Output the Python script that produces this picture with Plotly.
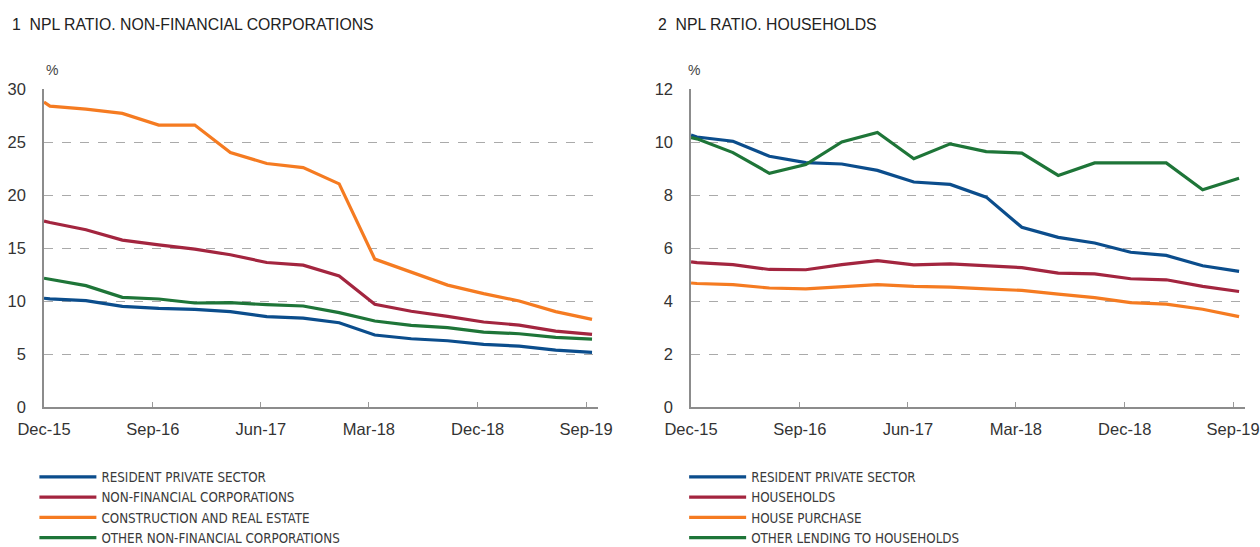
import plotly.graph_objects as go
from plotly.subplots import make_subplots

# Dates: line start at axis origin, then quarterly observations (mid-month)
dates = ["2015-12-01", "2015-12-16", "2016-03-16", "2016-06-16", "2016-09-16", "2016-12-16",
         "2017-03-16", "2017-06-16", "2017-09-16", "2017-12-16", "2018-03-16", "2018-06-16",
         "2018-09-16", "2018-12-16", "2019-03-16", "2019-06-16", "2019-09-16"]

tick_vals = ["2015-12-01", "2016-09-01", "2017-06-01", "2018-03-01", "2018-12-01", "2019-09-01"]
tick_text = ["Dec-15", "Sep-16", "Jun-17", "Mar-18", "Dec-18", "Sep-19"]

# Panel 1: NPL ratio, non-financial corporations (%)
nfc_resident = [10.26, 10.2, 10.03, 9.5, 9.31, 9.21, 8.99, 8.52, 8.39, 7.95, 6.79, 6.44, 6.25, 5.9, 5.74, 5.37, 5.15]
nfc_corporations = [17.54, 17.4, 16.72, 15.74, 15.3, 14.9, 14.36, 13.63, 13.38, 12.37, 9.69, 9.03, 8.55, 8.02, 7.73, 7.16, 6.85]
nfc_construction = [28.77, 28.39, 28.1, 27.7, 26.6, 26.6, 24.0, 22.97, 22.59, 21.05, 13.95, 12.7, 11.5, 10.7, 10.0, 9.0, 8.27]
nfc_other = [12.15, 12.05, 11.45, 10.35, 10.19, 9.81, 9.84, 9.65, 9.53, 8.9, 8.11, 7.7, 7.48, 7.07, 6.91, 6.56, 6.41]

# Panel 2: NPL ratio, households (%)
hh_resident = [10.26, 10.19, 10.03, 9.46, 9.22, 9.17, 8.93, 8.49, 8.4, 7.92, 6.78, 6.4, 6.19, 5.84, 5.72, 5.33, 5.12]
hh_households = [5.48, 5.45, 5.37, 5.19, 5.18, 5.37, 5.52, 5.36, 5.4, 5.33, 5.26, 5.05, 5.02, 4.84, 4.8, 4.55, 4.36]
hh_house_purchase = [4.68, 4.66, 4.62, 4.49, 4.46, 4.55, 4.62, 4.55, 4.52, 4.46, 4.4, 4.26, 4.13, 3.94, 3.88, 3.69, 3.41]
hh_other = [10.17, 10.12, 9.6, 8.82, 9.15, 10.0, 10.36, 9.37, 9.93, 9.64, 9.58, 8.74, 9.21, 9.21, 9.21, 8.2, 8.63]

names1 = ["RESIDENT PRIVATE SECTOR", "NON-FINANCIAL CORPORATIONS",
          "CONSTRUCTION AND REAL ESTATE", "OTHER NON-FINANCIAL CORPORATIONS"]
names2 = ["RESIDENT PRIVATE SECTOR", "HOUSEHOLDS", "HOUSE PURCHASE", "OTHER LENDING TO HOUSEHOLDS"]
colors = ["#0b4d8c", "#a3253f", "#f57b21", "#1e7538"]

FONT = "Helvetica Neue, Liberation Sans, Arial, sans-serif"
NARROW = "Liberation Sans Narrow, Arial Narrow, DejaVu Sans Condensed, sans-serif"

fig = make_subplots(rows=1, cols=2, horizontal_spacing=0.0775)

for series, name, color in zip([nfc_resident, nfc_corporations, nfc_construction, nfc_other], names1, colors):
    fig.add_trace(go.Scatter(x=dates, y=series, name=name, mode="lines",
                             line=dict(color=color, width=3.2), legend="legend"), row=1, col=1)

for series, name, color in zip([hh_resident, hh_households, hh_house_purchase, hh_other], names2, colors):
    fig.add_trace(go.Scatter(x=dates, y=series, name=name, mode="lines",
                             line=dict(color=color, width=3.2), legend="legend2"), row=1, col=2)

xaxis_common = dict(type="date", range=["2015-12-01", "2019-10-01"], tickvals=tick_vals, ticktext=tick_text,
                    ticks="inside", ticklen=5, tickcolor="#999999", tickwidth=1,
                    showline=True, linecolor="#8c8c8c", linewidth=2, showgrid=False, zeroline=False,
                    automargin=False, ticklabelstandoff=6, ticklabeloverflow="allow",
                    tickfont=dict(family=FONT, size=16.5, color="#333333"))
yaxis_common = dict(showline=True, linecolor="#8c8c8c", linewidth=1.5, ticks="",
                    showgrid=True, gridcolor="#aaaaaa", griddash="dash", gridwidth=1, zeroline=False,
                    automargin=False, ticklabelstandoff=13, ticklabeloverflow="allow",
                    tickfont=dict(family=FONT, size=16.5, color="#333333"))

fig.update_xaxes(**xaxis_common)
fig.update_yaxes(**yaxis_common)
fig.update_yaxes(range=[0, 30], tickvals=[0, 5, 10, 15, 20, 25, 30], row=1, col=1)
fig.update_yaxes(range=[0, 12], tickvals=[0, 2, 4, 6, 8, 10, 12], row=1, col=2)

legend_common = dict(orientation="v", yanchor="top", xanchor="left", bgcolor="rgba(0,0,0,0)",
                     font=dict(family=NARROW, size=13.3, color="#3a3a3a"), tracegroupgap=0,
                     itemwidth=57, traceorder="normal")

fig.update_layout(
    width=1260, height=547,
    margin=dict(l=44, r=15, t=89, b=140, autoexpand=False),
    plot_bgcolor="white", paper_bgcolor="white",
    font=dict(family=FONT, color="#222222"),
    showlegend=True,
    legend=dict(x=-0.008, y=-0.172, **legend_common),
    legend2=dict(x=0.533, y=-0.172, **legend_common),
    annotations=[
        dict(text="1  NPL RATIO. NON-FINANCIAL CORPORATIONS", xref="paper", yref="paper",
             x=-0.0283, y=1.204, xanchor="left", yanchor="middle", showarrow=False,
             font=dict(family=FONT, size=15.8, color="#222222")),
        dict(text="2  NPL RATIO. HOUSEHOLDS", xref="paper", yref="paper",
             x=0.5095, y=1.204, xanchor="left", yanchor="middle", showarrow=False,
             font=dict(family=FONT, size=15.8, color="#222222")),
        dict(text="%", xref="paper", yref="paper", x=0.0067, y=1.06, xanchor="center", yanchor="middle",
             showarrow=False, font=dict(family=FONT, size=14, color="#444444")),
        dict(text="%", xref="paper", yref="paper", x=0.541, y=1.06, xanchor="center", yanchor="middle",
             showarrow=False, font=dict(family=FONT, size=14, color="#444444")),
    ],
)

# Remove the default page margin so the 1260x547 figure fills the window exactly.
fig.write_html("out.html", config={"displayModeBar": False},
               post_script="document.body.style.margin='0';document.body.style.overflow='hidden';")
